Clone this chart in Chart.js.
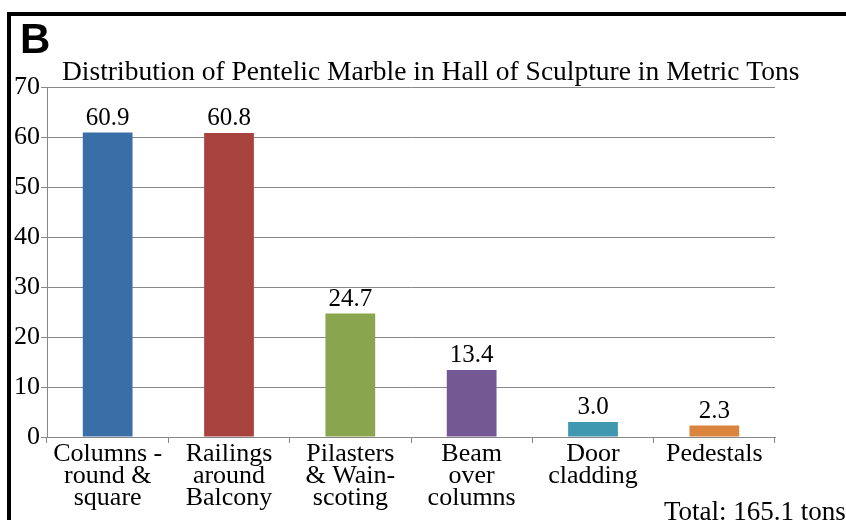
<!DOCTYPE html>
<html>
<head>
<meta charset="utf-8">
<script src="https://cdn.jsdelivr.net/npm/chart.js@4/dist/chart.umd.min.js"></script>
<style>
  body { margin: 0; background: #fff; }
  canvas { display: block; }
</style>
</head>
<body>
<canvas id="grafica" width="846" height="520"></canvas>
<script>
// Datos de la gráfica
const categorias = [
    ['Columns -', 'round &', 'square'],
    ['Railings', 'around', 'Balcony'],
    ['Pilasters', '& Wain-', 'scoting'],
    ['Beam', 'over', 'columns'],
    ['Door', 'cladding'],
    ['Pedestals']
];
const toneladas = [60.9, 60.8, 24.7, 13.4, 3.0, 2.3];
const colores = ['#3a6ea7', '#a8423f', '#89a54e', '#735894', '#3f98b0', '#db843d'];
const ticksY = [0, 10, 20, 30, 40, 50, 60, 70];

const titulo = 'Distribution of Pentelic Marble in Hall of Sculpture in Metric Tons';
const total = 'Total: 165.1 tons';

const serif = "'Liberation Serif', 'Times New Roman', serif";
const gris = '#888888';

Chart.defaults.font.family = serif;
Chart.defaults.color = '#000';

// Marco, letra B, título, etiquetas y total
const decoracion = {
    id: 'decoracion',
    afterDatasetsDraw(chart) {
        const ctx = chart.ctx;
        const meta = chart.getDatasetMeta(0);
        ctx.save();
        ctx.fillStyle = '#000';
        ctx.font = '25px ' + serif;
        ctx.textAlign = 'center';
        ctx.textBaseline = 'alphabetic';
        meta.data.forEach((bar, i) => {
            ctx.fillText(toneladas[i].toFixed(1), bar.x, bar.y - 8);
        });
        ctx.restore();
    },
    afterDraw(chart) {
        const ctx = chart.ctx;
        ctx.save();
        ctx.fillStyle = '#000';
        ctx.fillRect(7, 12, 839, 4);
        ctx.fillRect(7, 12, 4, 508);

        ctx.font = "bold 42px 'Liberation Sans', Arial, sans-serif";
        ctx.textAlign = 'left';
        ctx.textBaseline = 'alphabetic';
        ctx.fillText('B', 20, 53);

        ctx.font = '27.5px ' + serif;
        ctx.fillText(titulo, 62, 80);

        ctx.font = '27px ' + serif;
        ctx.fillText(total, 664, 520);
        ctx.restore();
    }
};

function crearGrafica() {
    new Chart(document.getElementById('grafica').getContext('2d'), {
        type: 'bar',
        data: {
            labels: categorias,
            datasets: [{
                data: toneladas,
                backgroundColor: colores,
                barPercentage: 0.41,
                categoryPercentage: 1
            }]
        },
        options: {
            responsive: false,
            devicePixelRatio: 1,
            animation: false,
            layout: { padding: { top: 87, right: 71, left: 0, bottom: 0 } },
            plugins: { legend: { display: false }, tooltip: { enabled: false } },
            scales: {
                x: {
                    grid: { drawOnChartArea: false, tickLength: 6, color: gris, offset: true },
                    border: { color: gris },
                    ticks: {
                        color: '#000',
                        padding: 0,
                        maxRotation: 0,
                        autoSkip: false,
                        font: { size: 26, lineHeight: 0.85 }
                    },
                    afterFit: s => { s.height = 83; }
                },
                y: {
                    min: 0,
                    max: 70,
                    afterBuildTicks: s => { s.ticks = ticksY.map(v => ({ value: v })); },
                    grid: { color: gris, tickLength: 6 },
                    border: { color: gris },
                    ticks: {
                        color: '#000',
                        padding: 1,
                        font: { size: 26 }
                    },
                    afterFit: s => { s.width = 47; }
                }
            }
        },
        plugins: [decoracion]
    });
}

// Esperar a las fuentes locales antes de dibujar
Promise.all([
    document.fonts.load("25px 'Liberation Serif'"),
    document.fonts.load("bold 42px 'Liberation Sans'")
]).then(crearGrafica, crearGrafica);
</script>
</body>
</html>
